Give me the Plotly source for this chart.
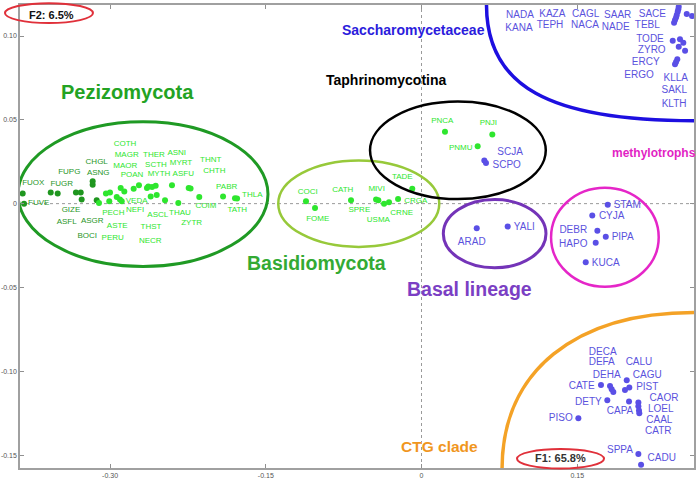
import plotly.graph_objects as go

# ---------------- data ----------------
# Pezizomycota
pez_names = ["FUOX","FUVE","FUGR","FUPG","ASFL","BOCI","GIZE","CHGL","ASNG","ASGR",
             "PECH","PERU","COTH","ASTE","MYRT","MAGR","MAOR","VEDA","NEFI","POAN",
             "THER","SCTH","MYTH","THST","NECR","ASCL","ASNI","THAU","ASFU","ZYTR",
             "THNT","CHTH","COIM","PABR","THLA","TATH"]
pez_x = [-0.3842,-0.3829,-0.3572,-0.3505,-0.3329,-0.3283,-0.3274,-0.3168,-0.3168,-0.3129,
         -0.3107,-0.3040,-0.3001,-0.3008,-0.2936,-0.2898,-0.2863,-0.2905,-0.2888,-0.2773,
         -0.2722,-0.2645,-0.2632,-0.2596,-0.2561,-0.2609,-0.2551,-0.2471,-0.2404,-0.2343,
         -0.2243,-0.2225,-0.2141,-0.1912,-0.1797,-0.1777]
pez_y = [0.0060,0.0000,0.0067,0.0060,0.0067,0.0067,0.0024,0.0133,0.0113,0.0020,
         0.0004,0.0060,0.0067,0.0014,0.0040,0.0093,0.0073,0.0024,0.0014,0.0089,
         0.0109,0.0093,0.0103,0.0099,0.0107,0.0043,0.0052,0.0020,0.0109,0.0004,
         0.0093,0.0090,0.0040,0.0043,0.0032,0.0030]
pez_lx = [-0.3740,-0.3688,-0.3466,-0.3393,-0.3418,-0.3220,-0.3377,-0.3129,-0.3114,-0.3172,
          -0.2969,-0.2975,-0.2856,-0.2931,-0.2317,-0.2840,-0.2854,-0.2744,-0.2760,-0.2789,
          -0.2577,-0.2558,-0.2529,-0.2606,-0.2613,-0.2541,-0.2358,-0.2327,-0.2295,-0.2214,
          -0.2031,-0.1996,-0.2076,-0.1877,-0.1630,-0.1775]
pez_ly = [0.0123,0.0004,0.0119,0.0190,-0.0109,-0.0195,-0.0036,0.0246,0.0183,-0.0105,
          -0.0055,-0.0207,0.0357,-0.0131,0.0242,0.0288,0.0222,0.0018,-0.0040,0.0168,
          0.0288,0.0232,0.0177,-0.0141,-0.0224,-0.0070,0.0302,-0.0055,0.0177,-0.0115,
          0.0262,0.0192,-0.0016,0.0099,0.0049,-0.0036]
pez_dark = ["FUOX","FUVE","FUGR","FUPG","ASFL","BOCI","GIZE","CHGL","ASNG","ASGR"]

# Basidiomycota
bas_names = ["COCI","FOME","CATH","MIVI","SPRE","USMA","CRNE","CRGA","TADE"]
bas_x = [-0.1113,-0.1026,-0.0679,-0.0438,-0.0416,-0.0361,-0.0313,-0.0226,-0.0089]
bas_y = [0.0014,-0.0026,0.0020,0.0024,0.0020,0.0000,0.0008,0.0028,0.0089]
bas_lx = [-0.1096,-0.1000,-0.0759,-0.0432,-0.0599,-0.0416,-0.0191,-0.0056,-0.0185]
bas_ly = [0.0067,-0.0091,0.0079,0.0088,-0.0040,-0.0095,-0.0055,0.0016,0.0157]

# Taphrinomycotina
tap_names = ["PNCA","PNJI","PNMU"]
tap_x = [0.0226,0.0682,0.0541]
tap_y = [0.0429,0.0413,0.0343]
tap_lx = [0.0200,0.0644,0.0378]
tap_ly = [0.0496,0.0480,0.0332]
sch_names = ["SCJA","SCPO"]
sch_x = [0.0605,0.0621]
sch_y = [0.0258,0.0242]
sch_lx = [0.0853,0.0821]
sch_ly = [0.0308,0.0228]

# Basal lineage
bl_names = ["ARAD","YALI"]
bl_x = [0.0532,0.0830]
bl_y = [-0.0147,-0.0137]
bl_lx = [0.0484,0.0990]
bl_ly = [-0.0230,-0.0145]

# methylotrophs
me_names = ["STAM","CYJA","DEBR","PIPA","HAPO","KUCA"]
me_x = [0.1794,0.1645,0.1694,0.1775,0.1678,0.1582]
me_y = [-0.0006,-0.0071,-0.0161,-0.0198,-0.0234,-0.0349]
me_lx = [0.1983,0.1832,0.1462,0.1938,0.1462,0.1775]
me_ly = [-0.0010,-0.0076,-0.0159,-0.0204,-0.0244,-0.0357]

# Saccharomycetaceae
sa_names = ["SACE","SAAR","CAGL","NADE","NACA","KAZA","TEPH","NADA","KANA",
            "TEBL","TODE","ZYRO","ERCY","ERGO","KLLA","SAKL","KLTH"]
sa_x = [0.2478,0.2474,0.2468,0.2459,0.2452,0.2442,0.2433,0.2555,0.2606,
        0.2420,0.2490,0.2522,0.2478,0.2539,0.2464,0.2452,0.2442]
sa_y = [0.1174,0.1159,0.1145,0.1125,0.1111,0.1095,0.1079,0.1131,0.1119,
        0.0972,0.0980,0.0960,0.0936,0.0912,0.0861,0.0845,0.0832]
sa_lx = [0.2224,0.1890,0.1582,0.1871,0.1575,0.1260,0.1238,0.0949,0.0939,
         0.2175,0.2201,0.2218,0.2160,0.2095,0.2449,0.2435,0.2433]
sa_ly = [0.1131,0.1125,0.1131,0.1048,0.1060,0.1131,0.1060,0.1121,0.1046,
         0.1060,0.0982,0.0913,0.0843,0.0762,0.0748,0.0673,0.0589]

# CTG clade
ctg_names = ["DECA","DEFA","DEHA","CATE","CALU","CAGU","PIST","CAOR","DETY",
             "CAPA","LOEL","CAAL","CATR","PISO","SPPA","CADU"]
ctg_x = [0.1816,0.1832,0.1848,0.1729,0.1977,0.2002,0.1960,0.2089,0.1790,
         0.1999,0.2089,0.2095,0.2098,0.1511,0.2089,0.2115]
ctg_y = [-0.1088,-0.1107,-0.1123,-0.1082,-0.1054,-0.1097,-0.1111,-0.1186,-0.1173,
         -0.1180,-0.1208,-0.1234,-0.1250,-0.1280,-0.1494,-0.1558]
ctg_lx = [0.1746,0.1736,0.1784,0.1543,0.2095,0.2175,0.2175,0.2336,0.1607,
          0.1912,0.2304,0.2291,0.2281,0.1341,0.1912,0.2314]
ctg_ly = [-0.0885,-0.0948,-0.1028,-0.1093,-0.0945,-0.1028,-0.1097,-0.1161,-0.1186,
          -0.1240,-0.1226,-0.1296,-0.1361,-0.1280,-0.1474,-0.1520]

x_ticks = [-0.30, -0.15, 0, 0.15]
x_ticktext = ["-0.30", "-0.15", "0", "0.15"]
y_ticks = [0.10, 0.05, 0, -0.05, -0.10, -0.15]
y_ticktext = ["0.10", "0.05", "0", "-0.05", "-0.10", "-0.15"]

# ---------------- styles ----------------
DARK_G = "#1f961f"
BRIGHT_G = "#2ee62e"
BLUE_PT = "#5a4fe6"
BLUE_TX = "#5b52dd"
LBL_FONT = "Liberation Sans, Arial, sans-serif"

fig = go.Figure()

def add_group(xs, ys, lxs, lys, names, mcolor, tcolor, tsize):
    fig.add_trace(go.Scatter(x=xs, y=ys, mode="markers",
                             marker=dict(size=6, color=mcolor), hoverinfo="skip",
                             showlegend=False))
    fig.add_trace(go.Scatter(x=lxs, y=lys, mode="text", text=names,
                             textposition="middle center", cliponaxis=False,
                             textfont=dict(size=tsize, color=tcolor, family=LBL_FONT),
                             hoverinfo="skip", showlegend=False))

pez_mc = [DARK_G if n in pez_dark else BRIGHT_G for n in pez_names]
add_group(pez_x, pez_y, pez_lx, pez_ly, pez_names, pez_mc, pez_mc, 8)
add_group(bas_x, bas_y, bas_lx, bas_ly, bas_names, BRIGHT_G, BRIGHT_G, 8)
add_group(tap_x, tap_y, tap_lx, tap_ly, tap_names, BRIGHT_G, BRIGHT_G, 8)
add_group(sch_x, sch_y, sch_lx, sch_ly, sch_names, BLUE_PT, BLUE_TX, 10)
add_group(bl_x, bl_y, bl_lx, bl_ly, bl_names, BLUE_PT, BLUE_TX, 10)
add_group(me_x, me_y, me_lx, me_ly, me_names, BLUE_PT, BLUE_TX, 10)
add_group(sa_x, sa_y, sa_lx, sa_ly, sa_names, BLUE_PT, BLUE_TX, 10)
add_group(ctg_x, ctg_y, ctg_lx, ctg_ly, ctg_names, BLUE_PT, BLUE_TX, 10)

shapes = []
# zero lines
shapes.append(dict(type="line", xref="x", yref="paper", x0=0, x1=0, y0=0, y1=1,
                   line=dict(color="#9a9a9a", width=1, dash="dot"), layer="below"))
shapes.append(dict(type="line", xref="paper", yref="y", x0=0, x1=1, y0=0, y1=0,
                   line=dict(color="#9a9a9a", width=1, dash="dot"), layer="below"))

def ellipse(x0, x1, y0, y1, color, w):
    shapes.append(dict(type="circle", xref="x", yref="y", x0=x0, x1=x1, y0=y0, y1=y1,
                       line=dict(color=color, width=w)))

ellipse(-0.3887, -0.1479, -0.0375, 0.0488, "#1f9a24", 3)      # Pezizomycota
ellipse(-0.1380, 0.0171, -0.0258, 0.0258, "#97c93a", 2.5)      # Basidiomycota
ellipse(-0.0496, 0.1197, 0.0027, 0.0609, "#000000", 2.5)       # Taphrinomycotina
ellipse(0.0210, 0.1199, -0.0383, 0.0024, "#7434b8", 3)         # Basal lineage
ellipse(0.1248, 0.2285, -0.0496, 0.0095, "#e526c8", 2.5)       # methylotrophs

def arc(p0, p3, k_x, k_y, color, w):
    # quarter-ellipse-like cubic bezier: vertical tangent at p0, horizontal at p3
    c1 = (p0[0], p0[1] + k_y * (p3[1] - p0[1]))
    c2 = (p3[0] - k_x * (p3[0] - p0[0]), p3[1])
    path = f"M {p0[0]},{p0[1]} C {c1[0]},{c1[1]} {c2[0]},{c2[1]} {p3[0]},{p3[1]}"
    shapes.append(dict(type="path", xref="x", yref="y", path=path,
                       line=dict(color=color, width=w)))

arc((0.0626, 0.1185), (0.2625, 0.0494), 0.7, 0.7, "#1d0fe0", 3.5)   # Saccharomycetaceae
arc((0.0776, -0.1580), (0.2625, -0.0649), 0.62, 0.62, "#f4a226", 3.5)  # CTG clade

# red ellipses for axis percentage labels
shapes.append(dict(type="circle", xref="paper", yref="paper", x0=-0.0223, x1=0.1083,
                   y0=0.961, y1=1.004, line=dict(color="#e0303a", width=2)))
shapes.append(dict(type="circle", xref="paper", yref="paper", x0=0.7374, x1=0.8665,
                   y0=-0.001, y1=0.041, line=dict(color="#e0303a", width=2)))

TITLE_FONT = "Liberation Sans, Arial, sans-serif"
annotations = [
    dict(x=-0.2837, y=0.0668, text="<b>Pezizomycota</b>", font=dict(size=20, color="#23a323", family=TITLE_FONT)),
    dict(x=-0.1007, y=-0.0357, text="<b>Basidiomycota</b>", font=dict(size=19.5, color="#33aa33", family=TITLE_FONT)),
    dict(x=-0.0340, y=0.0738, text="<b>Taphrinomycotina</b>", font=dict(size=14, color="#000000", family=TITLE_FONT)),
    dict(x=0.0631, y=0.1036, text="<b>Saccharomycetaceae</b>", font=dict(size=14, color="#2b1cdc", family=TITLE_FONT),
         xanchor="right"),
    dict(x=0.2240, y=0.0304, text="<b>methylotrophs</b>", font=dict(size=12, color="#e21fc4", family=TITLE_FONT)),
    dict(x=0.0462, y=-0.0512, text="<b>Basal lineage</b>", font=dict(size=19.5, color="#7b3fc4", family=TITLE_FONT)),
    dict(x=0.0169, y=-0.1446, text="<b>CTG clade</b>", font=dict(size=15.5, color="#f0961e", family=TITLE_FONT)),
]
for a in annotations:
    a.setdefault("xanchor", "center")
    a.update(xref="x", yref="y", showarrow=False, yanchor="middle")
annotations.append(dict(xref="paper", yref="paper", x=0.046, y=0.978, text="<b>F2: 6.5%</b>",
                        xanchor="center", yanchor="middle",
                        showarrow=False, font=dict(size=11, color="#111111", family=TITLE_FONT)))
annotations.append(dict(xref="paper", yref="paper", x=0.802, y=0.022, text="<b>F1: 65.8%</b>",
                        xanchor="center", yanchor="middle",
                        showarrow=False, font=dict(size=11, color="#333333", family=TITLE_FONT)))

axis_common = dict(showgrid=False, zeroline=False, showline=True, linecolor="#a0a0a0",
                   linewidth=1.5, mirror="ticks", ticks="inside", ticklen=4,
                   tickcolor="#909090", automargin=False,
                   tickfont=dict(size=7, color="#555555", family=LBL_FONT))

fig.update_layout(
    width=700, height=480,
    margin=dict(l=20, r=6, t=5, b=12),
    plot_bgcolor="white", paper_bgcolor="white",
    xaxis=dict(range=[-0.3868, 0.2625], tickvals=x_ticks, ticktext=x_ticktext, **axis_common),
    yaxis=dict(range=[-0.1577, 0.1185], tickvals=y_ticks, ticktext=y_ticktext, **axis_common),
    shapes=shapes, annotations=annotations, showlegend=False,
)

fig.write_html("out.html", config={"displayModeBar": False},
               post_script="document.body.style.margin='0px';")
